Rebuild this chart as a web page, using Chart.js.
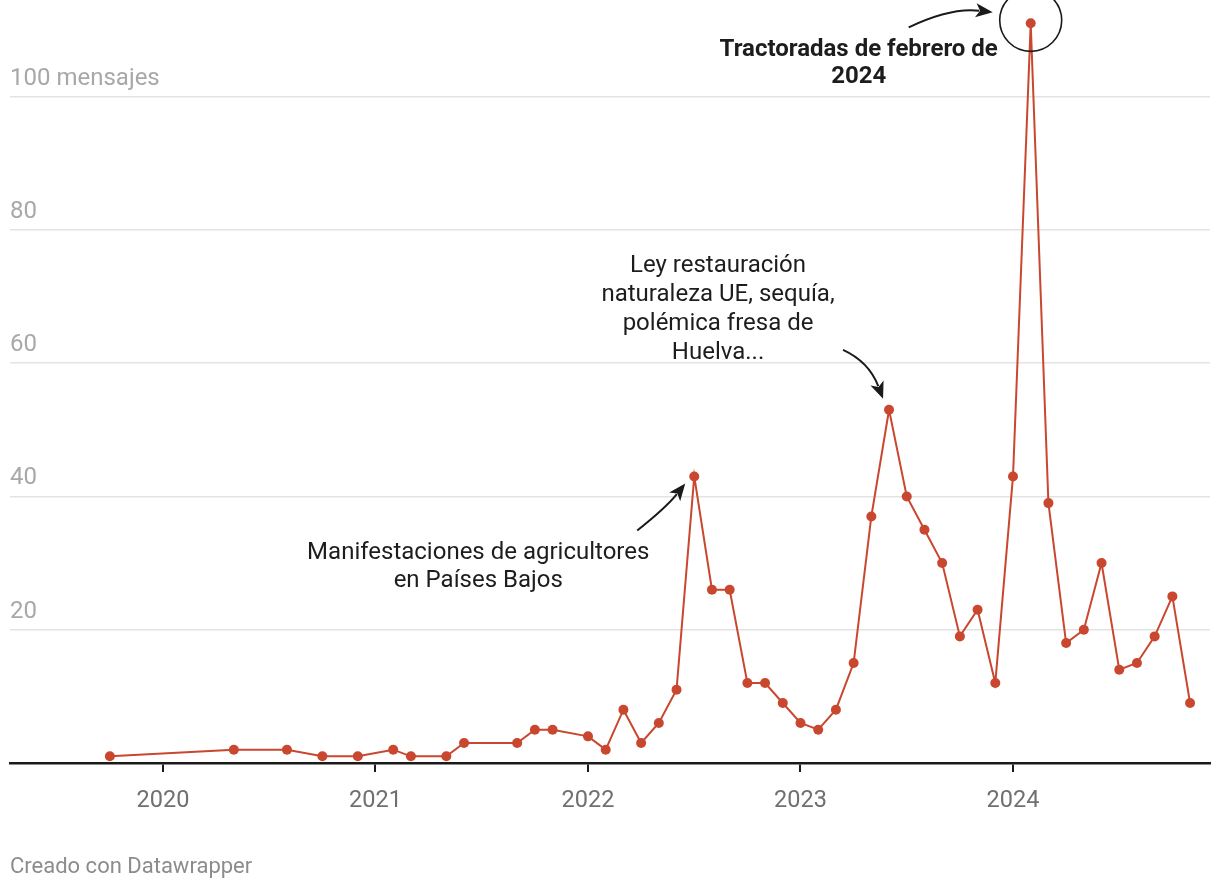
<!DOCTYPE html>
<html>
<head>
<meta charset="utf-8">
<script src="https://cdn.jsdelivr.net/npm/chart.js@4/dist/chart.umd.min.js"></script>
<style>
  html, body { margin: 0; padding: 0; background: #fff; }
  #wrap { position: relative; width: 1220px; height: 890px; }
  canvas { position: absolute; left: 0; top: 0; }
  #footer { position: absolute; left: 10px; top: 853px; font-family: Roboto, sans-serif; font-size: 22px; color: #8c8c8c; }
</style>
</head>
<body>
<div id="wrap">
  <canvas id="c" width="1220" height="890"></canvas>
  <div id="footer">Creado con Datawrapper</div>
</div>
<script>
// ---- data ----
const months = ['2019-10','2020-05','2020-08','2020-10','2020-12','2021-02','2021-03','2021-05','2021-06','2021-09','2021-10','2021-11',
  '2022-01','2022-02','2022-03','2022-04','2022-05','2022-06','2022-07','2022-08','2022-09','2022-10','2022-11','2022-12',
  '2023-01','2023-02','2023-03','2023-04','2023-05','2023-06','2023-07','2023-08','2023-09','2023-10','2023-11','2023-12',
  '2024-01','2024-02','2024-03','2024-04','2024-05','2024-06','2024-07','2024-08','2024-09','2024-10','2024-11'];
const messages = [1,2,2,1,1,2,1,1,3,3,5,5,
  4,2,8,3,6,11,43,26,26,12,12,9,
  6,5,8,15,37,53,40,35,30,19,23,12,
  43,111,39,18,20,30,14,15,19,25,9];
const yearTicks = [2020, 2021, 2022, 2023, 2024];
const valueTicks = [0, 20, 40, 60, 80, 100];
const unitLabel = 'mensajes';

const annotations = [
  { month: '2022-07', lines: ['Manifestaciones de agricultores', 'en Países Bajos'], bold: false },
  { month: '2023-06', lines: ['Ley restauración', 'naturaleza UE, sequía,', 'polémica fresa de', 'Huelva...'], bold: false },
  { month: '2024-02', lines: ['Tractoradas de febrero de', '2024'], bold: true }
];

// ---- helpers ----
function monthToYear(m) { const [y, mo] = m.split('-').map(Number); return y + (mo - 1) / 12; }
const points = months.map((m, i) => ({ x: monthToYear(m), y: messages[i] }));

// annotation layout (pixel offsets from the annotated point)
const annoLayout = [
  { tx: -216, ty: 77, lh: 28, arrow: { from: [-57, 54], ctrl: [-28, 31], to: [-9, 7] } },
  { tx: -171, ty: -144, lh: 29, arrow: { from: [-46, -60], ctrl: [-20, -48], to: [-6, -11] } },
  { tx: -172, ty: 27, lh: 27, arrow: { from: [-122, 4], ctrl: [-80, -16], to: [-38, -11] }, circle: 31 }
];

function drawArrow(ctx, x0, y0, cx, cy, x1, y1) {
  ctx.save();
  ctx.strokeStyle = '#1a1a1a';
  ctx.fillStyle = '#1a1a1a';
  ctx.lineWidth = 2;
  const ang = Math.atan2(y1 - cy, x1 - cx);
  const headLen = 17, headW = 7;
  const bx = x1 - Math.cos(ang) * headLen * 0.8, by = y1 - Math.sin(ang) * headLen * 0.8;
  ctx.beginPath();
  ctx.moveTo(x0, y0);
  ctx.quadraticCurveTo(cx, cy, bx, by);
  ctx.stroke();
  ctx.beginPath();
  ctx.moveTo(x1, y1);
  ctx.lineTo(x1 - Math.cos(ang) * headLen + Math.sin(ang) * headW, y1 - Math.sin(ang) * headLen - Math.cos(ang) * headW);
  ctx.lineTo(x1 - Math.cos(ang) * headLen * 0.75, y1 - Math.sin(ang) * headLen * 0.75);
  ctx.lineTo(x1 - Math.cos(ang) * headLen - Math.sin(ang) * headW, y1 - Math.sin(ang) * headLen + Math.cos(ang) * headW);
  ctx.closePath();
  ctx.fill();
  ctx.restore();
}

const annoPlugin = {
  id: 'annos',
  afterDatasetsDraw(chart) {
    const ctx = chart.ctx;
    const xs = chart.scales.x, ys = chart.scales.y;
    annotations.forEach((a, i) => {
      const idx = months.indexOf(a.month);
      const px = xs.getPixelForValue(points[idx].x);
      const py = ys.getPixelForValue(points[idx].y);
      const L = annoLayout[i];
      ctx.save();
      ctx.fillStyle = '#1d1d1d';
      ctx.font = (a.bold ? 'bold ' : '') + '24px Roboto, sans-serif';
      ctx.textAlign = 'center';
      ctx.textBaseline = 'middle';
      a.lines.forEach((t, k) => ctx.fillText(t, px + L.tx, py + L.ty + k * L.lh));
      ctx.restore();
      const ar = L.arrow;
      drawArrow(ctx, px + ar.from[0], py + ar.from[1], px + ar.ctrl[0], py + ar.ctrl[1], px + ar.to[0], py + ar.to[1]);
      if (L.circle) {
        ctx.save();
        ctx.strokeStyle = '#1a1a1a';
        ctx.lineWidth = 1.6;
        ctx.beginPath();
        ctx.arc(px, py - 3, L.circle, 0, Math.PI * 2);
        ctx.stroke();
        ctx.restore();
      }
    });
  }
};

const lineColor = '#c9472f';

new Chart(document.getElementById('c'), {
  type: 'line',
  data: {
    datasets: [{
      data: points,
      borderColor: lineColor,
      backgroundColor: lineColor,
      borderWidth: 2,
      pointRadius: 5,
      pointBorderWidth: 0,
      pointBackgroundColor: lineColor,
      tension: 0,
      clip: false
    }]
  },
  options: {
    responsive: false,
    animation: false,
    devicePixelRatio: 1,
    layout: { padding: { left: 10, right: 10, top: 10, bottom: 0 } },
    plugins: { legend: { display: false }, tooltip: { enabled: false } },
    scales: {
      x: {
        type: 'linear',
        min: 2020 - 153 / 212.5,
        max: 2024 + 197 / 212.5,
        afterBuildTicks(s) { s.ticks = yearTicks.map(v => ({ value: v })); },
        afterFit(s) { s.height = 127; s.paddingLeft = 0; s.paddingRight = 0; },
        ticks: {
          callback: v => String(v),
          color: '#707070',
          font: { family: 'Roboto', size: 23.5 },
          padding: 15,
          maxRotation: 0,
          autoSkip: false
        },
        grid: { drawOnChartArea: false, drawTicks: true, tickLength: 9, color: '#1a1a1a', lineWidth: 2 },
        border: { display: true, color: '#1a1a1a', width: 2.5 }
      },
      y: {
        min: 0,
        max: 113,
        afterBuildTicks(s) { s.ticks = valueTicks.map(v => ({ value: v })); },
        afterFit(s) { s.width = 0; s.paddingTop = 0; s.paddingBottom = 0; },
        ticks: {
          mirror: true,
          padding: 0,
          labelOffset: -18,
          color: '#a8a8a8',
          font: { family: 'Roboto', size: 24 },
          callback: v => v === 0 ? '' : (v === 100 ? v + ' ' + unitLabel : String(v))
        },
        grid: {
          drawTicks: false,
          color: c => c.tick && c.tick.value === 0 ? 'rgba(0,0,0,0)' : '#e3e3e3',
          lineWidth: 1.6
        },
        border: { display: false }
      }
    }
  },
  plugins: [annoPlugin]
});
</script>
</body>
</html>
